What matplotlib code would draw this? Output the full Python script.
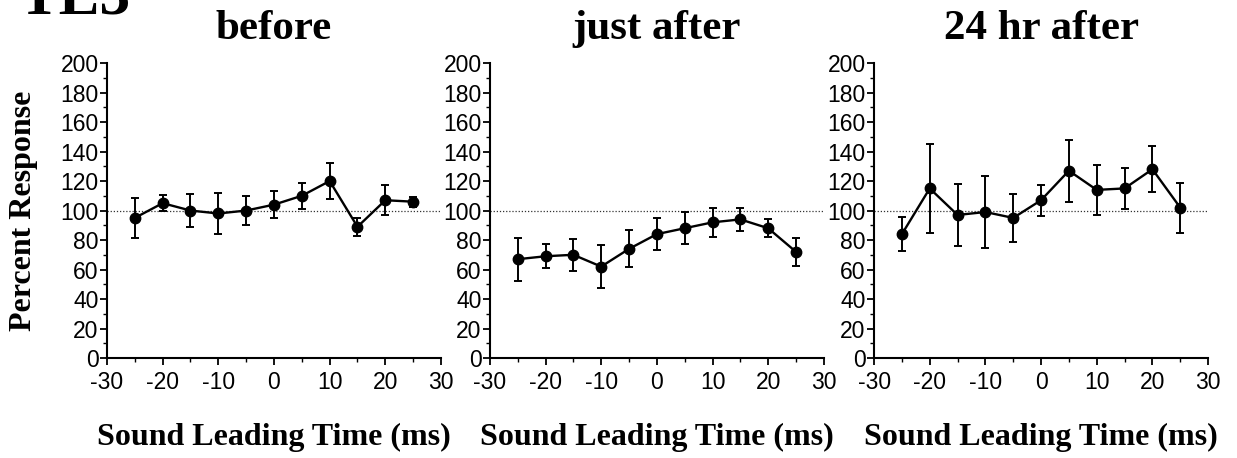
import matplotlib
matplotlib.use("Agg")
import matplotlib.pyplot as plt
from matplotlib.ticker import MultipleLocator

plt.rcParams["axes.unicode_minus"] = False

# sound leading time (ms)
lead_times = [-25, -20, -15, -10, -5, 0, 5, 10, 15, 20, 25]

panel_titles = ["before", "just after", "24 hr after"]

# percent response, mean and error
before_mean = [95, 105, 100, 98, 100, 104, 110, 120, 89, 107, 106]
before_err = [13.5, 5.5, 11, 14, 10, 9, 9, 12, 6, 10, 3.5]

just_after_mean = [67, 69, 70, 62, 74, 84, 88, 92, 94, 88, 72]
just_after_err = [14.5, 8, 11, 14.5, 12.5, 11, 11, 10, 8, 6, 9.5]

after24_mean = [84, 115, 97, 99, 95, 107, 127, 114, 115, 128, 102]
after24_err = [11.5, 30, 21, 24.5, 16, 10.5, 21, 17, 14, 15.5, 17]

xticks = [-30, -20, -10, 0, 10, 20, 30]
yticks = [0, 20, 40, 60, 80, 100, 120, 140, 160, 180, 200]

means = [before_mean, just_after_mean, after24_mean]
errs = [before_err, just_after_err, after24_err]

serif = ["Liberation Serif", "DejaVu Serif"]
sans = ["Liberation Sans", "DejaVu Sans"]

fig = plt.figure(figsize=(12.37, 4.58), dpi=100)

lefts = [0.0865, 0.396, 0.7066]
bottom = 0.2183
width = 0.270
height = 0.644

for i in range(3):
    ax = fig.add_axes([lefts[i], bottom, width, height])
    ax.axhline(100, color="#333333", lw=0.9, ls=(0, (1, 1.5)), zorder=1)
    ax.errorbar(lead_times, means[i], yerr=errs[i], fmt="-o", color="black",
                lw=1.7, markersize=7.5, elinewidth=1.4, capsize=3,
                capthick=1.4, zorder=3)
    ax.set_xlim(-30, 30)
    ax.set_ylim(0, 200)
    ax.set_xticks(xticks)
    ax.set_yticks(yticks)
    ax.xaxis.set_minor_locator(MultipleLocator(5))
    ax.yaxis.set_minor_locator(MultipleLocator(10))
    ax.spines["top"].set_visible(False)
    ax.spines["right"].set_visible(False)
    for s in ("left", "bottom"):
        ax.spines[s].set_linewidth(1.5)
    ax.tick_params(which="major", length=5, width=1.3, pad=1)
    ax.tick_params(which="minor", length=3, width=1.0)
    ax.tick_params(axis="x", pad=4)
    for lab in ax.get_xticklabels() + ax.get_yticklabels():
        lab.set_family(sans)
        lab.set_fontsize(16.5)
    cx = lefts[i] + width / 2
    fig.text(cx, 1 - 39 / 458, panel_titles[i], ha="center", va="baseline",
             family=serif, weight="bold", fontsize=31)
    fig.text(cx, 1 - 445 / 458, "Sound Leading Time (ms)", ha="center",
             va="baseline", family=serif, weight="bold", fontsize=23)

fig.text(0.019, bottom + height / 2, "Percent Response", rotation=90,
         ha="center", va="center", family=serif, weight="bold", fontsize=23)
fig.text(0.0145, 1 - 13 / 458, "TE3", ha="left", va="baseline",
         family=serif, weight="bold", fontsize=44)

fig.savefig("out.png", dpi=100)
